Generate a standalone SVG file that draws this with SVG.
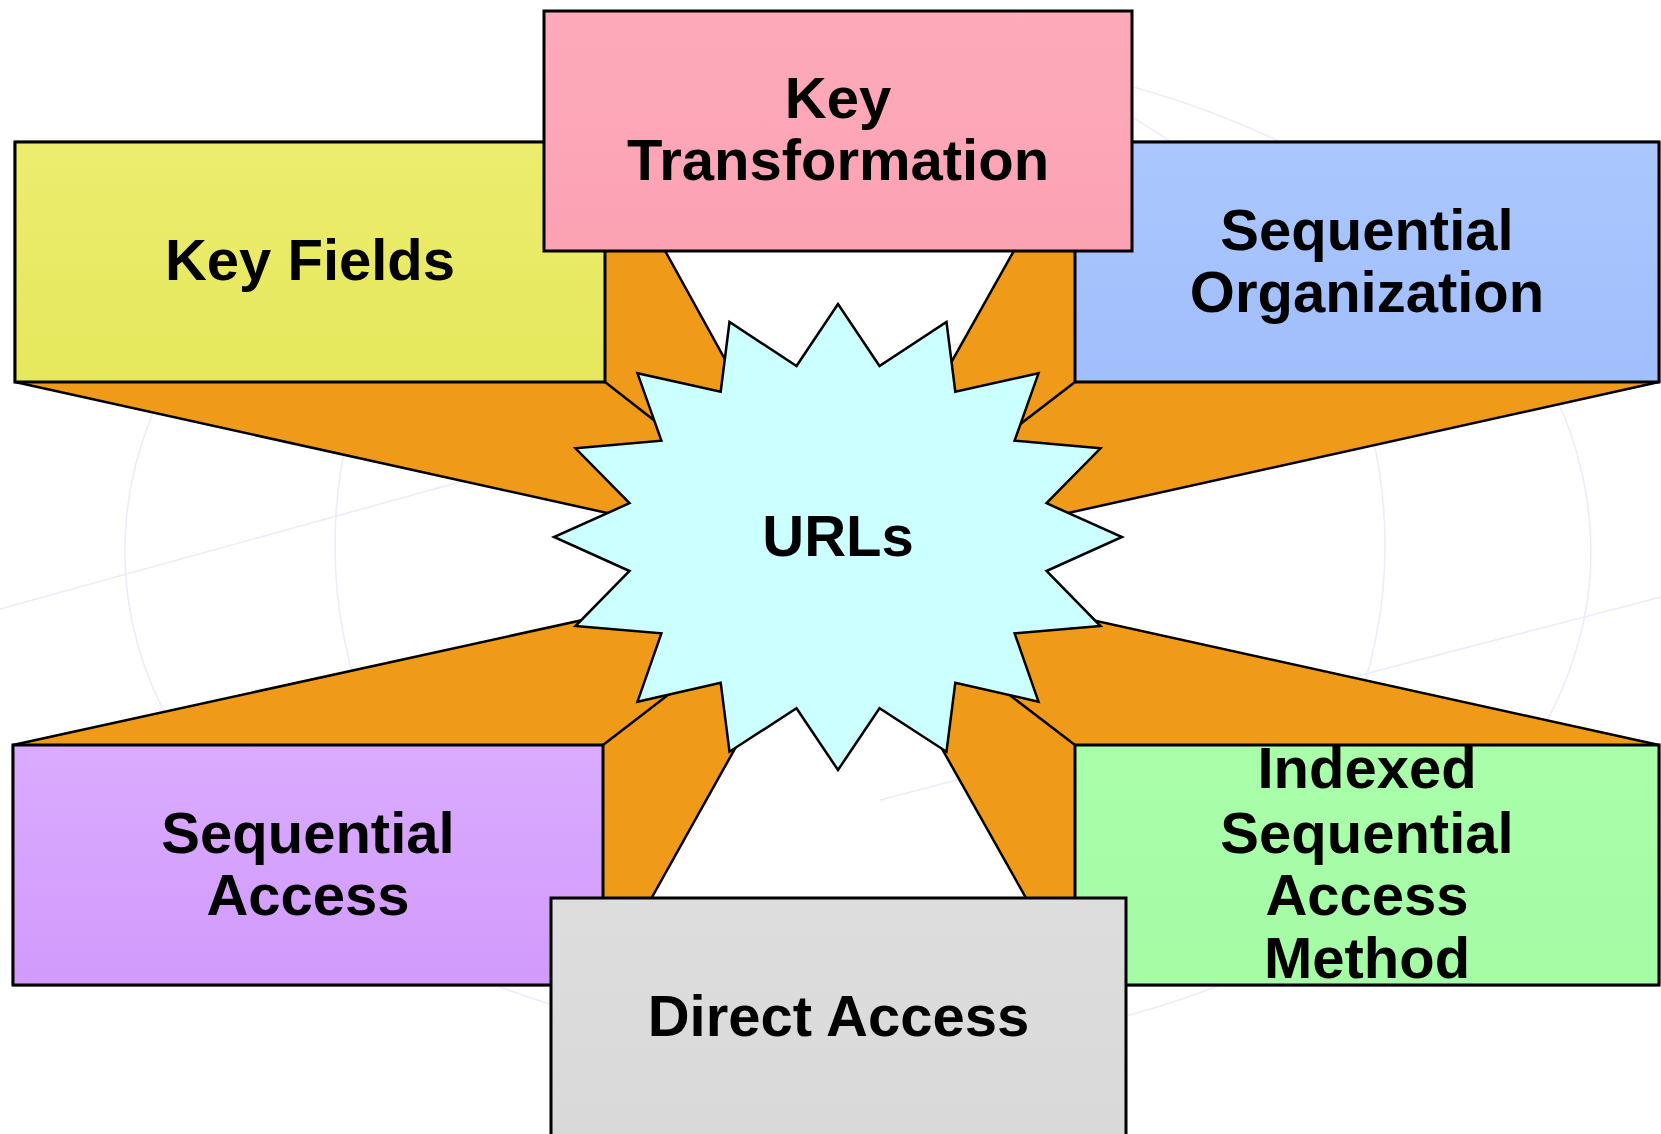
<svg xmlns="http://www.w3.org/2000/svg" width="1661" height="1134" viewBox="0 0 1661 1134">
<defs>
<style>
.bg{fill:none;stroke:#ECECFA;stroke-width:1.6}
.beam{fill:#F09A1A;stroke:#000;stroke-width:2.5;stroke-linejoin:round}
.edge{fill:none;stroke:#000;stroke-width:2.5}
.box{stroke:#000;stroke-width:3}
.lbl{font-family:"Liberation Sans",Arial,Helvetica,sans-serif;font-weight:bold;font-size:58px;fill:#000;text-anchor:middle}
</style>
<linearGradient id="gY" x1="0" y1="0" x2="0" y2="1"><stop offset="0" stop-color="#ECEC6E"/><stop offset="1" stop-color="#E6E85C"/></linearGradient>
<linearGradient id="gP" x1="0" y1="0" x2="0" y2="1"><stop offset="0" stop-color="#FDAABB"/><stop offset="1" stop-color="#FBA2B3"/></linearGradient>
<linearGradient id="gB" x1="0" y1="0" x2="0" y2="1"><stop offset="0" stop-color="#ABC7FE"/><stop offset="1" stop-color="#A2BEFC"/></linearGradient>
<linearGradient id="gV" x1="0" y1="0" x2="0" y2="1"><stop offset="0" stop-color="#DAABFE"/><stop offset="1" stop-color="#D19AFC"/></linearGradient>
<linearGradient id="gG" x1="0" y1="0" x2="0" y2="1"><stop offset="0" stop-color="#AAFEAA"/><stop offset="1" stop-color="#A5FCA5"/></linearGradient>
<linearGradient id="gD" x1="0" y1="0" x2="0" y2="1"><stop offset="0" stop-color="#DDDDDD"/><stop offset="1" stop-color="#D9D9D9"/></linearGradient>
</defs>
<rect x="0" y="0" width="1661" height="1134" fill="#FFFFFF"/>
<g id="background">
<path class="bg" d="M1000,60 A733,500 0 1 1 200,330"/>
<ellipse class="bg" cx="860" cy="545" rx="525" ry="500"/>
<path class="bg" d="M0,609 L1661,150"/>
<path class="bg" d="M880,800 L1661,597"/>
</g>
<g id="connectors">
<polygon class="beam" points="15,142 605,142 838,564 15,382"/>
<line class="edge" x1="605" y1="382" x2="838" y2="564"/>
<polygon class="beam" points="1659,142 1075,142 838,564 1659,382"/>
<line class="edge" x1="1075" y1="382" x2="838" y2="564"/>
<polygon class="beam" points="13,745 838,564 603,985 13,985"/>
<line class="edge" x1="603" y1="745" x2="838" y2="564"/>
<polygon class="beam" points="1659,745 838,564 1075,985 1659,985"/>
<line class="edge" x1="1075" y1="745" x2="838" y2="564"/>
</g>
<g id="node-urls">
<polygon fill="#CCFFFF" stroke="#000" stroke-width="2.5" stroke-linejoin="miter" points="838,304 879.5,366 946.5,322 955.3,391.7 1038.5,373.3 1014.6,440.7 1100.5,448.3 1046.5,503.2 1122,537 1046.5,571 1100.5,626 1014.6,633.3 1038.5,701.7 955.3,682.7 946.5,751.7 879.5,708.3 838,770 796.5,708.3 729.5,751.7 720.7,682.7 637.5,701.7 661.4,633.3 575.5,626 629.5,571 554,537 629.5,503.2 575.5,448.3 661.4,440.7 637.5,373.3 720.7,391.7 729.5,322 796.5,366"/>
<text class="lbl" x="838" y="556">URLs</text>
</g>
<g id="node-key-fields">
<rect class="box" x="15" y="142" width="590" height="240" fill="url(#gY)"/>
<text class="lbl" x="310" y="280">Key Fields</text>
</g>
<g id="node-sequential-organization">
<rect class="box" x="1075" y="142" width="584" height="240" fill="url(#gB)"/>
<text class="lbl" x="1367" y="249.5">Sequential</text>
<text class="lbl" x="1367" y="311.8">Organization</text>
</g>
<g id="node-key-transformation">
<rect class="box" x="544" y="11" width="588" height="240" fill="url(#gP)"/>
<text class="lbl" x="838" y="117.5">Key</text>
<text class="lbl" x="838" y="180">Transformation</text>
</g>
<g id="node-sequential-access">
<rect class="box" x="13" y="745" width="590" height="240" fill="url(#gV)"/>
<text class="lbl" x="308" y="852.7">Sequential</text>
<text class="lbl" x="308" y="915.3">Access</text>
</g>
<g id="node-indexed-sequential-access-method">
<rect class="box" x="1075" y="745" width="584" height="240" fill="url(#gG)"/>
<text class="lbl" x="1367" y="788.3">Indexed</text>
<text class="lbl" x="1367" y="852.7">Sequential</text>
<text class="lbl" x="1367" y="915.3">Access</text>
<text class="lbl" x="1367" y="978.2">Method</text>
</g>
<g id="node-direct-access">
<rect class="box" x="551" y="898" width="575" height="250" fill="url(#gD)"/>
<text class="lbl" x="838.5" y="1035.5">Direct Access</text>
</g>
</svg>
